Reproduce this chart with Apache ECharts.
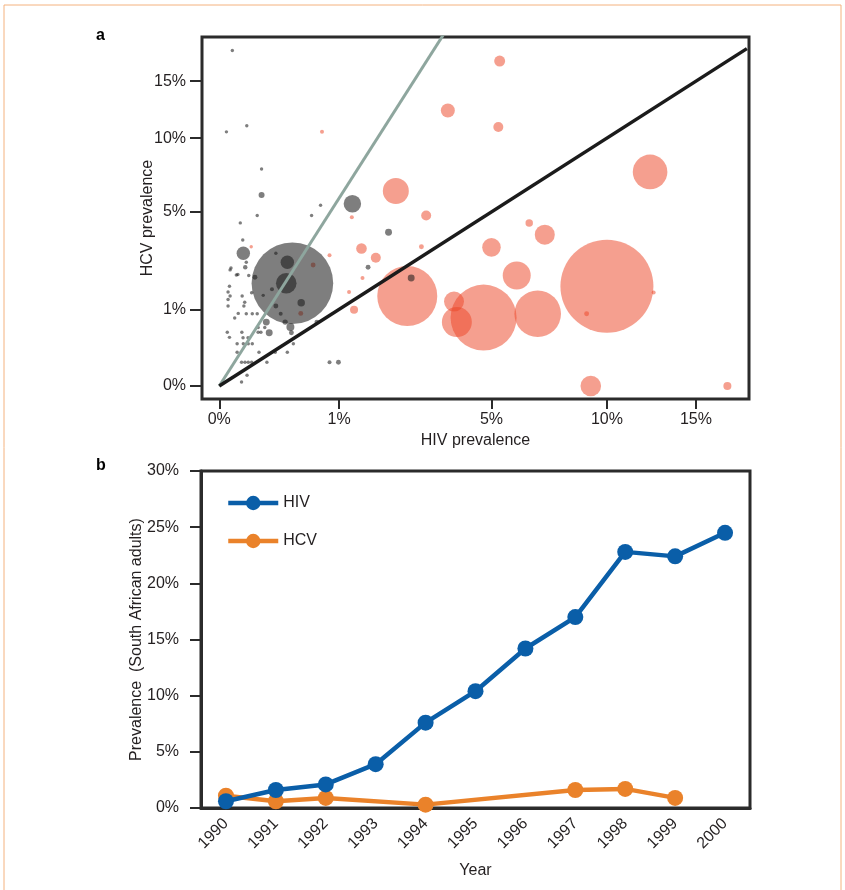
<!DOCTYPE html>
<html>
<head>
<meta charset="utf-8">
<script src="https://cdn.jsdelivr.net/npm/echarts@6/dist/echarts.min.js"></script>
<style>
  html, body { margin: 0; padding: 0; background: #fff; }
  #main { width: 845px; height: 890px; }
</style>
</head>
<body>
<div id="main"></div>
<script>
// panel a: [HIV %, HCV %, population weight]
const redPoints = [
  [5.3, 17.0, 30], [3.55, 12.3, 49], [5.25, 10.9, 25], [12.3, 7.5, 300],
  [2.14, 6.25, 169], [2.92, 4.8, 25], [6.45, 4.4, 14], [7.1, 3.8, 100],
  [5.0, 3.2, 86], [5.95, 2.05, 196], [2.42, 1.37, 900], [3.74, 1.21, 100],
  [3.83, 0.70, 225], [4.72, 0.80, 1089], [6.8, 0.89, 543], [10.0, 1.68, 2162],
  [9.0, 0.89, 6], [12.5, 1.48, 4], [9.2, 0, 106], [17.0, 0, 16],
  [0.74, 10.5, 4], [1.22, 4.7, 4], [1.40, 3.15, 28], [1.69, 2.75, 25],
  [0.85, 2.85, 4], [1.42, 1.96, 4], [1.17, 1.49, 4], [1.26, 0.99, 16],
  [0.075, 3.23, 2], [2.79, 3.23, 6], [0.62, 2.45, 6], [0.47, 0.90, 6]
];
const greyPoints = [
  [0.38, 1.78, 1665], [1.23, 5.47, 76], [0.043, 2.94, 45], [0.33, 2.56, 45],
  [0.32, 1.78, 106], [0.475, 1.18, 14], [1.97, 3.92, 12], [2.52, 1.96, 12],
  [1.53, 2.36, 6], [0.99, 0.10, 6], [0.85, 0.10, 4], [0.67, 0.70, 6],
  [0.13, 6.0, 9], [0.013, 18.1, 2], [0.004, 10.5, 2], [0.056, 11.0, 2],
  [0.13, 7.7, 2], [0.033, 4.4, 2], [0.105, 4.8, 2], [0.6, 4.8, 2], [0.72, 5.38, 2],
  [0.041, 3.54, 3], [0.054, 2.56, 3], [0.05, 2.36, 5], [0.0105, 2.33, 3],
  [0.009, 2.26, 3], [0.026, 2.09, 3], [0.022, 2.07, 3], [0.064, 2.05, 3],
  [0.039, 1.37, 3], [0.008, 1.68, 3], [0.006, 1.49, 3], [0.009, 1.37, 3],
  [0.077, 1.47, 3], [0.006, 1.27, 3], [0.048, 1.19, 3], [0.006, 1.09, 3],
  [0.045, 1.09, 3], [0.027, 0.90, 3], [0.018, 0.79, 3], [0.054, 0.89, 3],
  [0.080, 0.89, 3], [0.105, 0.89, 3], [0.005, 0.50, 3], [0.008, 0.41, 3],
  [0.038, 0.50, 3], [0.042, 0.405, 3], [0.11, 0.59, 3], [0.15, 0.59, 3],
  [0.11, 0.50, 3], [0.126, 0.50, 3], [0.061, 0.405, 3], [0.024, 0.31, 3],
  [0.043, 0.31, 3], [0.062, 0.31, 3], [0.080, 0.31, 3], [0.39, 0.31, 3],
  [0.225, 0.20, 3], [0.33, 0.20, 3], [0.115, 0.20, 3], [0.024, 0.20, 3],
  [0.037, 0.10, 3], [0.049, 0.10, 3], [0.062, 0.10, 3], [0.077, 0.10, 3],
  [0.164, 0.10, 3], [0.057, 0.021, 3], [0.037, 0.003, 3],
  [0.31, 0.70, 7], [0.36, 0.60, 16], [0.16, 0.70, 12], [0.18, 0.49, 12],
  [0.23, 1.09, 6], [0.093, 1.99, 6], [0.20, 1.58, 4], [0.23, 2.94, 2],
  [0.14, 1.39, 2], [0.27, 0.89, 4], [0.37, 0.49, 6]
];
const prevTicks = [0, 1, 5, 10, 15];
const blackRatio = 1;    // HCV = HIV
const greyRatio = 5.8;   // HCV = 5.8 x HIV
const lineEnd = 18.3;    // HIV % where the reference lines stop

// panel b
const years = ['1990', '1991', '1992', '1993', '1994', '1995', '1996', '1997', '1998', '1999', '2000'];
const hivSA = [0.6, 1.6, 2.1, 3.9, 7.6, 10.4, 14.2, 17.0, 22.8, 22.4, 24.5];
const hcvSA = [1.1, 0.6, 0.9, null, 0.3, null, null, 1.6, 1.7, 0.9, null];

// root-ish scale used by the figure
const P = 0.51;
const f = v => Math.pow(v, P);
const fi = t => Math.pow(Math.max(t, 0), 1 / P);

const font = 'Liberation Sans, Arial, Helvetica, sans-serif';
const txt = '#231f20';

const toPt = p => [f(p[0]), f(p[1]), p[2]];
const refLine = k => [[0, 0], [lineEnd, lineEnd * k]].map(p => [f(p[0]), f(p[1])]);
const bubble = d => Math.max(3.4, 2 * Math.sqrt(d[2]));

const myChart = echarts.init(document.getElementById('main'));
const option = {
  animation: false,
  textStyle: { fontFamily: font, color: txt },
  grid: [
    { left: 202, right: 96, top: 37, height: 362, show: true, borderColor: '#2b2b2b', borderWidth: 3, backgroundColor: 'transparent' },
    { left: 201, right: 95, top: 471, bottom: 82, show: true, borderColor: '#2b2b2b', borderWidth: 3, backgroundColor: 'transparent' }
  ],
  xAxis: [
    {
      gridIndex: 0, type: 'value', min: -0.144, max: 4.422,
      name: 'HIV prevalence', nameLocation: 'middle', nameGap: 34, nameMoveOverlap: false,
      nameTextStyle: { fontSize: 16, color: txt, fontFamily: font },
      splitLine: { show: false }, axisLine: { show: false, onZero: false },
      axisTick: { show: true, customValues: prevTicks.map(f), length: 10, lineStyle: { color: '#2b2b2b', width: 2 } },
      axisLabel: { customValues: prevTicks.map(f), formatter: v => Math.round(fi(v)) + '%', fontSize: 16, color: txt, margin: 13, fontFamily: font }
    },
    {
      gridIndex: 1, type: 'category', data: years, boundaryGap: true,
      name: 'Year', nameLocation: 'middle', nameGap: 55, nameMoveOverlap: false,
      nameTextStyle: { fontSize: 16, color: txt, fontFamily: font },
      axisLine: { lineStyle: { color: '#2b2b2b', width: 3 } },
      axisTick: { length: 10, lineStyle: { color: '#2b2b2b', width: 2 } },
      axisLabel: { rotate: 45, fontSize: 16, color: txt, margin: 13, fontFamily: font }
    }
  ],
  yAxis: [
    {
      gridIndex: 0, type: 'value', min: -0.170, max: 4.556,
      name: 'HCV prevalence', nameLocation: 'middle', nameGap: 46, nameMoveOverlap: false,
      nameTextStyle: { fontSize: 16, color: txt, fontFamily: font },
      splitLine: { show: false }, axisLine: { show: false, onZero: false },
      axisTick: { show: true, customValues: prevTicks.map(f), length: 12, lineStyle: { color: '#2b2b2b', width: 2 } },
      axisLabel: { customValues: prevTicks.map(f), formatter: v => Math.round(fi(v)) + '%', fontSize: 16, color: txt, margin: 16, fontFamily: font }
    },
    {
      gridIndex: 1, type: 'value', min: 0, max: 30, interval: 5,
      name: 'Prevalence  (South African adults)', nameLocation: 'middle', nameGap: 56, nameMoveOverlap: false,
      nameTextStyle: { fontSize: 16, color: txt, fontFamily: font },
      splitLine: { show: false },
      axisLine: { show: true, lineStyle: { color: '#2b2b2b', width: 3 } },
      axisTick: { show: true, length: 11, lineStyle: { color: '#2b2b2b', width: 2 } },
      axisLabel: { formatter: '{value}%', fontSize: 16, color: txt, margin: 22, fontFamily: font }
    }
  ],
  legend: {
    orient: 'vertical', left: 221, top: 490, itemWidth: 50, itemHeight: 18, itemGap: 22,
    data: ['HIV', 'HCV'],
    lineStyle: { width: 4.5 },
    textStyle: { fontSize: 16, color: txt, fontFamily: font }
  },
  series: [
    {
      name: 'high HIV', type: 'scatter', xAxisIndex: 0, yAxisIndex: 0,
      data: redPoints.map(toPt),
      symbolSize: bubble,
      itemStyle: { color: 'rgba(236,70,40,0.65)' },
      z: 2
    },
    {
      name: 'low HIV', type: 'scatter', xAxisIndex: 0, yAxisIndex: 0,
      data: greyPoints.map(toPt),
      symbolSize: bubble,
      itemStyle: { color: 'rgba(25,25,25,0.7)' },
      z: 3
    },
    {
      type: 'line', xAxisIndex: 0, yAxisIndex: 0, data: refLine(greyRatio),
      showSymbol: false, clip: true, lineStyle: { color: '#8ea69e', width: 3 }, z: 4
    },
    {
      type: 'line', xAxisIndex: 0, yAxisIndex: 0, data: refLine(blackRatio),
      showSymbol: false, clip: true, lineStyle: { color: '#1b1b1b', width: 3.5 }, z: 5
    },
    {
      name: 'HCV', type: 'line', xAxisIndex: 1, yAxisIndex: 1, data: hcvSA,
      connectNulls: true, symbol: 'circle', symbolSize: 16,
      itemStyle: { color: '#ea822a' }, lineStyle: { color: '#ea822a', width: 4.5 }, z: 5
    },
    {
      name: 'HIV', type: 'line', xAxisIndex: 1, yAxisIndex: 1, data: hivSA,
      symbol: 'circle', symbolSize: 16,
      itemStyle: { color: '#0a5ea8' }, lineStyle: { color: '#0a5ea8', width: 4.5 }, z: 6
    }
  ],
  graphic: [
    { type: 'polyline', shape: { points: [[4, 890], [4, 5], [841, 5], [841, 890]] }, style: { stroke: '#f4b27f', lineWidth: 1, fill: null } },
    { type: 'text', left: 96, top: 28, style: { text: 'a', font: 'bold 16px ' + font, fill: '#000' } },
    { type: 'text', left: 96, top: 458, style: { text: 'b', font: 'bold 16px ' + font, fill: '#000' } }
  ]
};
myChart.setOption(option);
</script>
</body>
</html>
